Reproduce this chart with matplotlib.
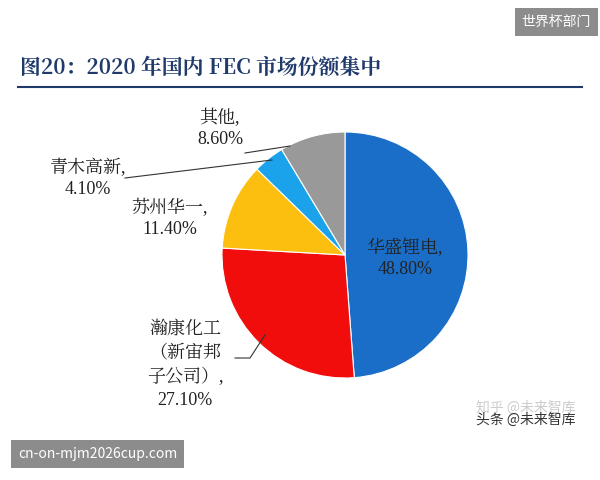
import matplotlib.pyplot as plt

plt.rcParams['font.family'] = ['Noto Sans CJK SC', 'DejaVu Sans']

labels = ['华盛锂电,\n48.80%', '瀚康化工\n（新宙邦\n子公司）,\n27.10%', '苏州华一,\n11.40%', '青木高新,\n4.10%', '其他,\n8.60%']
shares = [48.8, 27.1, 11.4, 4.1, 8.6]
colors = ['#1a6ec7', '#f20d0d', '#fdbf0f', '#1aa3ea', '#999999']

SERIF = ['Liberation Serif', 'Noto Serif CJK SC', 'Noto Sans CJK SC', 'DejaVu Serif']

fig = plt.figure(figsize=(6, 4.8), dpi=100)
fig.patch.set_facecolor('white')

def px(x, y):
    return x / 600, 1 - y / 480

# title and rule
fig.text(*px(20, 68), '图20：2020 年国内 FEC 市场份额集中', fontsize=15, fontweight='bold', va='center',
         color='#1f3a6b', family=['Noto Serif CJK SC', 'Noto Sans CJK SC', 'DejaVu Serif'])
fig.add_artist(plt.Line2D([0.03, 0.97], [1 - 87 / 480] * 2, color='#1f3a6b', lw=1.5))

ax = fig.add_axes([222 / 600, 1 - 378 / 480, 246 / 600, 246 / 480])
wedges, _ = ax.pie(shares, colors=colors, startangle=90, counterclock=False,
                   wedgeprops=dict(edgecolor='white', linewidth=0.8))
ax.set_xlim(-1, 1)
ax.set_ylim(-1, 1)

fs = 13
kw = dict(ha='center', va='center', fontsize=fs, color='#222222', linespacing=1.3, family=SERIF)
fig.text(*px(405, 258), labels[0], **kw)
fig.text(*px(185, 365), labels[1], **{**kw, 'linespacing': 1.45})
fig.text(*px(170, 218), labels[2], **kw)
fig.text(*px(88, 178), labels[3], **kw)
fig.text(*px(220, 128), labels[4], **kw)

# leader lines
def leader(pts):
    xs, ys = zip(*[px(x, y) for x, y in pts])
    fig.add_artist(plt.Line2D(xs, ys, color='#333333', lw=0.8))

leader([(235, 358), (250, 358), (265, 335)])
leader([(125, 178), (272, 160)])
leader([(245, 153), (290, 146)])

# watermarks
fig.text(0.985, 0.955, '世界杯部门', ha='right', va='center', fontsize=10, color='white',
         bbox=dict(boxstyle='square,pad=0.5', facecolor='#8c8c8c', edgecolor='none'))
fig.text(0.03, 0.055, 'cn-on-mjm2026cup.com', ha='left', va='center', fontsize=10, color='white',
         bbox=dict(boxstyle='square,pad=0.5', facecolor='#8c8c8c', edgecolor='none'))
fig.text(*px(575, 408), '知乎 @未来智库', ha='right', va='center', fontsize=10, color='#cccccc')
fig.text(*px(575, 420), '头条 @未来智库', ha='right', va='center', fontsize=10, color='#333333')

fig.savefig('out.png', dpi=100, facecolor='white')
